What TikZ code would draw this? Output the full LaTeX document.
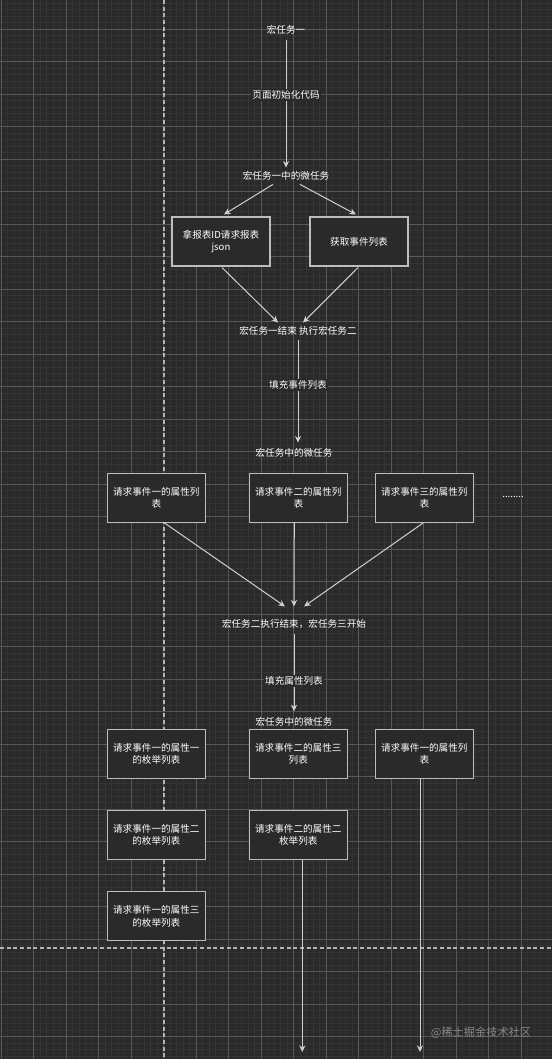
\documentclass[tikz,border=0pt]{standalone}
\usepackage{fontspec}
\newfontfamily\cjk{Noto Sans CJK SC}
\usetikzlibrary{arrows.meta,calc}
\definecolor{bgc}{HTML}{2A2A2A}
\definecolor{minorc}{HTML}{343434}
\definecolor{majorc}{HTML}{575757}
\definecolor{linec}{HTML}{D0D0D0}
\definecolor{boxc}{HTML}{BDBDBD}
\definecolor{dashc}{HTML}{B4B4B4}
\definecolor{wmc}{HTML}{8A8A8A}
\begin{document}
\begin{tikzpicture}[x=0.75pt,y=-0.75pt,
  txt/.style={font=\cjk\fontsize{7.2}{9.3}\selectfont, text=white, inner sep=2pt},
  lbl/.style={txt, fill=bgc, inner sep=1pt},
  box/.style={draw=boxc, fill=bgc, line width=0.8pt, minimum width=73.5pt,
    minimum height=36.75pt, align=center, font=\cjk\fontsize{7.2}{9.3}\selectfont,
    text=white, inner sep=1pt},
  conn/.style={draw=linec, line width=0.75pt, -{Stealth[length=5pt,width=4.6pt]}},
  dashln/.style={draw=dashc, line width=1pt, dash pattern=on 3pt off 2pt},
  wm/.style={font=\cjk\fontsize{8.4}{10}\selectfont, text=wmc, inner sep=0pt}]
\useasboundingbox (0,0) rectangle (552,1059);
\fill[bgc] (0,0) rectangle (552,1059);
\begin{scope}
  \clip (0,0) rectangle (552,1059);
  \foreach \k in {0,...,85} \draw[minorc,line width=0.6pt] ({1+6.5*\k},0) -- ({1+6.5*\k},1059);
  \foreach \k in {0,...,165} \draw[minorc,line width=0.6pt] (0,{-3.2+6.5*\k}) -- (552,{-3.2+6.5*\k});
  \foreach \k in {0,...,17} \draw[majorc,line width=0.75pt] ({1+32.5*\k},0) -- ({1+32.5*\k},1059);
  \foreach \k in {0,...,33} \draw[majorc,line width=0.75pt] (0,{-3.2+32.5*\k}) -- (552,{-3.2+32.5*\k});
\end{scope}
% dashed separators
\draw[dashln] (164,0) -- (164,1059);
\draw[dashln] (0,948) -- (552,948);

% nodes
\node[txt] (t1) at (286,30) {宏任务一};
\node[txt] (t2) at (286,176) {宏任务一中的微任务};
\node[box] (b1) at (221,241.5) {拿报表ID请求报表\\json};
\node[box] (b2) at (359,241.5) {获取事件列表};
\node[txt] (t3) at (298,331) {宏任务一结束\ 执行宏任务二};
\node[txt] (t4) at (294,453) {宏任务中的微任务};
\node[box] (ba) at (156.3,497.8) {请求事件一的属性列\\表};
\node[box] (bb) at (298.3,497.8) {请求事件二的属性列\\表};
\node[box] (bc) at (424.3,497.8) {请求事件三的属性列\\表};
\node[txt] (dots) at (513,497) {........};
\node[txt] (t5) at (294,624) {宏任务二执行结束，宏任务三开始};
\node[txt] (t6) at (294,721.7) {宏任务中的微任务};
\node[box] (r1a) at (156.3,753.8) {请求事件一的属性一\\的枚举列表};
\node[box] (r1b) at (298.3,753.8) {请求事件二的属性三\\列表};
\node[box] (r1c) at (424.3,753.8) {请求事件一的属性列\\表};
\node[box] (r2a) at (156.3,834.6) {请求事件一的属性二\\的枚举列表};
\node[box] (r2b) at (298.3,834.6) {请求事件二的属性二\\枚举列表};
\node[box] (r3a) at (156.3,916.2) {请求事件一的属性三\\的枚举列表};
\node[wm] (wm) at (481,1033) {@稀土掘金技术社区};
\coordinate (e1) at (302.3,1052);
\coordinate (e2) at (420,1052);

% connectors
\draw[conn] ($(t1.south)+(0,3)$) -- ($(t2.north)+(0,-1)$);
\draw[conn] ($(t2.south)+(-13,1)$) -- ($(b1.north)+(3,-2)$);
\draw[conn] ($(t2.south)+(14,1)$) -- ($(b2.north)+(-3,-2)$);
\draw[conn] ($(b1.south)+(1,1)$) -- ($(t3.north)+(-20,-1)$);
\draw[conn] ($(b2.south)+(-1,1)$) -- ($(t3.north)+(5,-1)$);
\draw[conn] ($(t3.south)+(0,2)$) -- ($(t3.south |- t4.north)+(0,-3)$);
\draw[conn] ($(ba.south)+(8,0)$) -- ($(t5.north)+(-9,-10)$);
\draw[conn] ($(bb.south)+(-4,0)$) -- ($(t5.north)+(0,-10)$);
\draw[conn] ($(bc.south)+(-1,0)$) -- ($(t5.north)+(10,-10)$);
\draw[conn] ($(t5.south)+(0,2)$) -- ($(t6.north)+(0,-3)$);
\draw[conn] (r2b.south -| e1) -- (e1);
\draw[conn] (r1c.south -| e2) -- (e2);

% labels on connectors
\node[lbl] (l1) at (286,95) {页面初始化代码};
\node[lbl] (l2) at (298,385) {填充事件列表};
\node[lbl] (l3) at (294,681) {填充属性列表};
\end{tikzpicture}
\end{document}
